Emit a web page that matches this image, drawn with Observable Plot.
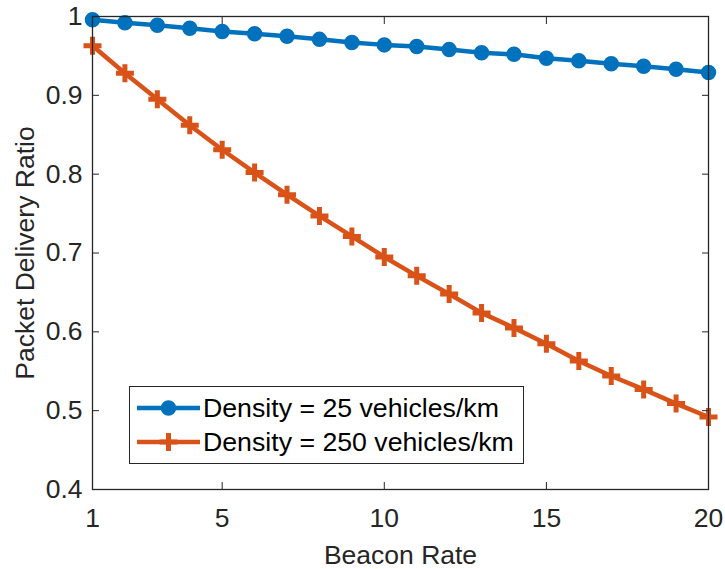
<!DOCTYPE html>
<html><head><meta charset="utf-8">
<script src="https://cdn.jsdelivr.net/npm/d3@7"></script>
<script src="https://cdn.jsdelivr.net/npm/@observablehq/plot@0.6"></script>
<style>
body{margin:0;background:#fff;}
#wrap{position:relative;width:725px;height:569px;font-family:"Liberation Sans",Arial,Helvetica,sans-serif;}
#legend{position:absolute;left:129px;top:386px;width:393px;height:76px;border:1.3px solid #262626;background:#fff;}
#legend .row{position:absolute;left:0;height:30px;display:flex;align-items:center;}
#legend span{font-size:26.7px;color:#000;margin-left:3px;white-space:nowrap;}
</style></head><body><div id="wrap"></div>
<script>
const beaconRate = [1,2,3,4,5,6,7,8,9,10,11,12,13,14,15,16,17,18,19,20];
const pdr25  = [0.996,0.992,0.989,0.985,0.981,0.978,0.975,0.971,0.967,0.964,0.962,0.958,0.954,0.952,0.947,0.944,0.940,0.937,0.933,0.929];
const pdr250 = [0.963,0.928,0.895,0.862,0.831,0.802,0.774,0.747,0.721,0.695,0.671,0.648,0.624,0.605,0.585,0.563,0.544,0.527,0.509,0.492];
const seriesNames = ["Density = 25 vehicles/km","Density = 250 vehicles/km"];
const seriesColors = ["#0072BD","#D95319"];
const xTicks = [1,5,10,15,20];
const xTickLabels = ["1","5","10","15","20"];
const yTicks = [0.4,0.5,0.6,0.7,0.8,0.9,1];
const yTickLabels = ["0.4","0.5","0.6","0.7","0.8","0.9","1"];
const xLabel = "Beacon Rate";
const yLabel = "Packet Delivery Ratio";

const rows25 = beaconRate.map((x,i)=>({x, y: pdr25[i]}));
const rows250 = beaconRate.map((x,i)=>({x, y: pdr250[i]}));

const plusSymbol = {draw(ctx, size){const r=Math.sqrt(size/Math.PI);ctx.moveTo(-r,0);ctx.lineTo(r,0);ctx.moveTo(0,-r);ctx.lineTo(0,r);}};
const axisColor = "#262626";
const FS = 26.5;

const chart = Plot.plot({
  width:725, height:569,
  marginLeft:92, marginRight:17, marginTop:16, marginBottom:80,
  style:{fontFamily:'"Liberation Sans",Arial,Helvetica,sans-serif', fontSize:FS+"px", color:axisColor, background:"white"},
  x:{domain:[1,20]},
  y:{domain:[0.4,1]},
  marks:[
    Plot.line(rows25,{x:"x",y:"y",stroke:seriesColors[0],strokeWidth:4.5}),
    Plot.dot(rows25,{x:"x",y:"y",r:6.5,fill:seriesColors[0],stroke:seriesColors[0],strokeWidth:2.5}),
    Plot.line(rows250,{x:"x",y:"y",stroke:seriesColors[1],strokeWidth:4.5}),
    Plot.dot(rows250,{x:"x",y:"y",r:9,symbol:plusSymbol,fill:"none",stroke:seriesColors[1],strokeWidth:5}),
    Plot.frame({stroke:axisColor,strokeWidth:1.3}),
    Plot.axisX(xTicks,{anchor:"bottom",tickSize:-7,tickPadding:26,label:null,stroke:axisColor,fill:axisColor,fontSize:FS,tickFormat:d=>xTickLabels[xTicks.indexOf(d)]}),
    Plot.axisX(xTicks,{anchor:"top",tickSize:-7,label:null,stroke:axisColor,fill:"none"}),
    Plot.axisY(yTicks,{anchor:"left",tickSize:-7,tickPadding:17,label:null,stroke:axisColor,fill:axisColor,fontSize:FS,tickFormat:d=>yTickLabels[yTicks.indexOf(d)]}),
    Plot.axisY(yTicks,{anchor:"right",tickSize:-7,label:null,stroke:axisColor,fill:"none"}),
    Plot.text([xLabel],{text:d=>d,frameAnchor:"bottom",textAnchor:"middle",lineAnchor:"middle",dy:66,fontSize:FS,fill:axisColor}),
    Plot.text([yLabel],{text:d=>d,frameAnchor:"left",textAnchor:"middle",lineAnchor:"middle",rotate:-90,dx:-67,fontSize:FS,fill:axisColor})
  ]
});
const wrap = document.getElementById("wrap");
wrap.appendChild(chart);

// legend
const legend = d3.select(wrap).append("div").attr("id","legend");
const rowTops = [6, 40];
seriesNames.forEach((name,i)=>{
  const row = legend.append("div").attr("class","row").style("top",rowTops[i]+"px").style("left","7px");
  const svg = row.append("svg").attr("width",63).attr("height",30);
  svg.append("line").attr("x1",0).attr("x2",63).attr("y1",15).attr("y2",15).attr("stroke",seriesColors[i]).attr("stroke-width",4.5);
  if(i===0){
    svg.append("circle").attr("cx",31.5).attr("cy",15).attr("r",6.5).attr("fill",seriesColors[i]).attr("stroke",seriesColors[i]).attr("stroke-width",2.5);
  } else {
    svg.append("path").attr("d","M22.5,15H40.5M31.5,6V24").attr("stroke",seriesColors[i]).attr("stroke-width",5).attr("fill","none");
  }
  row.append("span").text(name);
});
</script>
</body></html>
